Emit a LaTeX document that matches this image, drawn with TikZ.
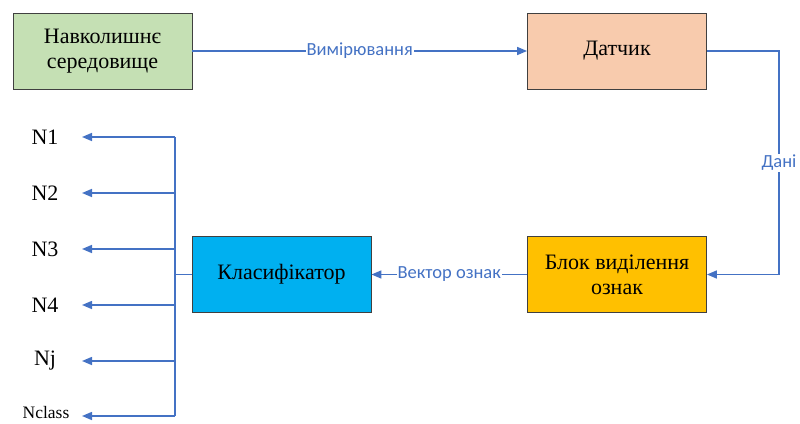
\documentclass[tikz,border=0pt]{standalone}
\usepackage{fontspec}
\setmainfont{Liberation Serif}
\newfontfamily\labelfont{Carlito}
\usetikzlibrary{arrows.meta}
\definecolor{linkblue}{HTML}{4472C4}
\definecolor{envgreen}{HTML}{C5E0B4}
\definecolor{sensorpeach}{HTML}{F8CBAD}
\definecolor{featgold}{HTML}{FFC000}
\definecolor{clsblue}{HTML}{00B0F0}
\definecolor{boxedge}{HTML}{404040}
\begin{document}
\begin{tikzpicture}[x=1pt,y=-1pt,
  block/.style={draw=boxedge,line width=0.8pt,minimum width=179pt,minimum height=76pt,
    align=center,font=\fontsize{22}{25}\selectfont,inner sep=0pt},
  link/.style={draw=linkblue,line width=1.5pt,-{Triangle[length=10pt,width=8pt]}},
  plain/.style={draw=linkblue,line width=1.5pt},
  tag/.style={fill=white,text=linkblue,font=\labelfont\fontsize{18.5}{20}\selectfont,inner sep=1pt},
  classlabel/.style={font=\fontsize{22}{25}\selectfont,inner sep=0pt}]
\useasboundingbox (0,0) rectangle (800,423);
% processing blocks
\node[block,fill=envgreen]    (env)  at (102.5,51)  {Навколишнє\\середовище};
\node[block,fill=sensorpeach] (sens) at (617,51)    {Датчик};
\node[block,fill=featgold]    (feat) at (617,274.5) {Блок виділення\\ознак};
\node[block,fill=clsblue]     (cls)  at (281.5,274.5) {Класифікатор};
% class outputs
\node[classlabel] (n1) at (45,137) {N1};
\node[classlabel] (n2) at (45,193) {N2};
\node[classlabel] (n3) at (45,249) {N3};
\node[classlabel] (n4) at (45,305) {N4};
\node[classlabel] (nj) at (45,361) {Nj};
\node[classlabel,font=\fontsize{17.5}{20}\selectfont,anchor=base] (nc) at (46,418.5) {Nclass};
\coordinate (ncrow) at (0,416);
% data flow
\draw[link] (env.east) -- node[tag]{Вимірювання} (sens.west);
\coordinate (turn1) at (779,51);
\coordinate (turn2) at (779,274.5);
\draw[link] (sens.east) -- (turn1) -- node[tag]{Дані} (turn2) -- (feat.east);
\draw[link] (feat.west) -- node[tag]{Вектор ознак} (cls.east);
% distribution bus
\coordinate (bus) at (175,274.5);
\coordinate (bustop) at (175,137);
\coordinate (busbot) at (175,416);
\coordinate (tips) at (82,0);
\draw[plain] (cls.west) -- (bus);
\draw[plain] (bustop) -- (busbot);
\foreach \n in {n1,n2,n3,n4,nj,ncrow}{
  \draw[link] (bus |- \n) -- (tips |- \n);
}
\end{tikzpicture}
\end{document}
